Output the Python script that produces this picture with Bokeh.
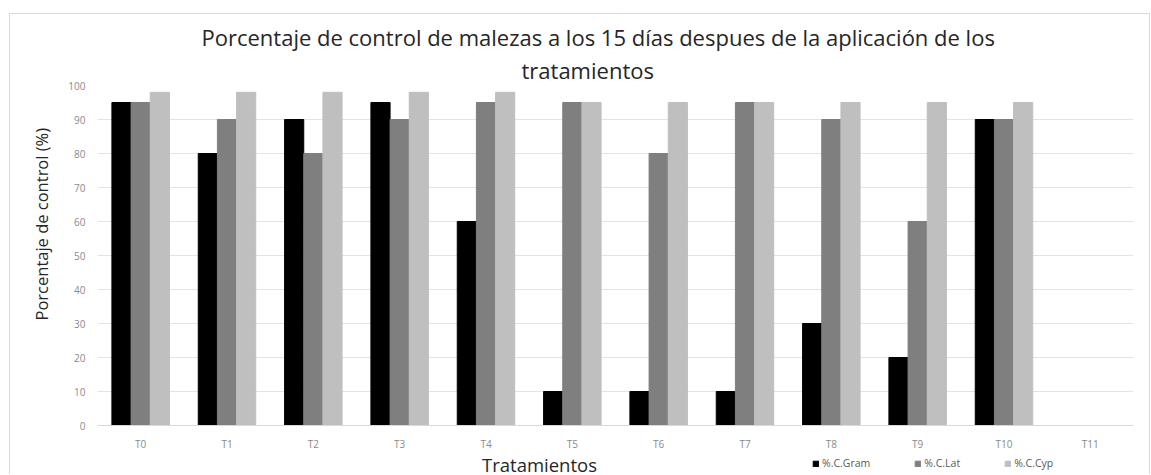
from bokeh.plotting import figure
from bokeh.models import FactorRange, Title, Legend, LegendItem, ColumnDataSource, Label
from bokeh.layouts import column
from bokeh.transform import dodge
from bokeh.embed import file_html
from bokeh.resources import INLINE

treatments = ["T0", "T1", "T2", "T3", "T4", "T5", "T6", "T7", "T8", "T9", "T10", "T11"]
c_gram = [95, 80, 90, 95, 60, 10, 10, 10, 30, 20, 90, 0]
c_lat = [95, 90, 80, 90, 95, 95, 80, 95, 90, 60, 90, 0]
c_cyp = [98, 98, 98, 98, 98, 95, 95, 95, 95, 95, 95, 0]
series_names = ["%.C.Gram", "%.C.Lat", "%.C.Cyp"]
y_ticks = list(range(0, 101, 10))
title_line1 = "Porcentaje de control de malezas a los 15 días despues de la aplicación de los"
title_line2 = "tratamientos"

FONT = "Open Sans"
colors = ["#000000", "#7f7f7f", "#bfbfbf"]
src = ColumnDataSource(dict(t=treatments, gram=c_gram, lat=c_lat, cyp=c_cyp))

W = 1139
p = figure(x_range=FactorRange(*treatments), y_range=(0, 100),
           width=W, height=439, output_backend="svg", toolbar_location=None,
           min_border_left=87, min_border_right=16, min_border_top=71, min_border_bottom=28)
p.x_range.range_padding = 0
p.outline_line_color = None

w = 0.222
r1 = p.vbar(x=dodge("t", -w, range=p.x_range), top="gram", width=w, source=src, color=colors[0])
r2 = p.vbar(x=dodge("t", 0, range=p.x_range), top="lat", width=w, source=src, color=colors[1])
r3 = p.vbar(x=dodge("t", w, range=p.x_range), top="cyp", width=w, source=src, color=colors[2])

# title lines (the one added later sits higher)
p.add_layout(Title(text=title_line2, align="left", offset=424, text_font=FONT, text_font_size="22px",
                   text_font_style="normal", text_color="#262626", standoff=2), "above")
p.add_layout(Title(text=title_line1, align="left", offset=104, text_font=FONT, text_font_size="22px",
                   text_font_style="normal", text_color="#262626", standoff=0), "above")

p.xgrid.grid_line_color = None
p.ygrid.grid_line_color = "#e3e3e3"
p.yaxis.ticker = y_ticks
for ax in (p.xaxis[0], p.yaxis[0]):
    ax.axis_line_color = None
    ax.major_tick_line_color = None
    ax.minor_tick_line_color = None
    ax.major_tick_out = 0
    ax.major_label_text_font = FONT
    ax.major_label_text_font_size = "10px"
    ax.major_label_text_color = "#8a8a8a"
p.xaxis.axis_line_color = "#d9d9d9"
p.xaxis.major_label_standoff = 11
p.yaxis.major_label_standoff = 12

p.add_layout(Title(text="Porcentaje de control (%)", align="left", offset=105, text_font=FONT,
                   text_font_size="16.5px", text_font_style="normal", text_color="#262626",
                   standoff=26), "left")

# bottom strip with axis title and legend (its frame lines up with the main frame)
p2 = figure(width=W, height=21, x_range=(0, 1), y_range=(0, 1), output_backend="svg",
            toolbar_location=None, min_border=0)
p2.axis.visible = False
p2.grid.grid_line_color = None
p2.outline_line_color = None
d1 = p2.vbar(x=[0.5], top=[0], width=0.01, color=colors[0])
d2 = p2.vbar(x=[0.5], top=[0], width=0.01, color=colors[1])
d3 = p2.vbar(x=[0.5], top=[0], width=0.01, color=colors[2])
p2.add_layout(Label(x=442, y=10, x_units="screen", y_units="screen", text="Tratamientos",
                    text_align="center", text_baseline="middle", text_font=FONT,
                    text_font_size="18.5px", text_color="#262626"))
legend = Legend(items=[LegendItem(label=series_names[0], renderers=[d1]),
                       LegendItem(label=series_names[1], renderers=[d2]),
                       LegendItem(label=series_names[2], renderers=[d3])],
                orientation="horizontal", location=(715, 4),
                label_text_font=FONT, label_text_font_size="10.5px", label_text_color="#595959",
                glyph_width=7, glyph_height=7, label_height=12, spacing=44, label_standoff=3,
                border_line_color=None, background_fill_alpha=0, padding=0, margin=0)
p2.add_layout(legend, "center")

layout = column(p, p2, spacing=0)
layout.styles = {"border-top": "1px solid #d9d9d9", "border-left": "1px solid #d9d9d9",
                 "border-right": "1px solid #d9d9d9", "margin-top": "13px", "margin-left": "9px"}

open("out.html", "w").write(file_html(layout, INLINE))
